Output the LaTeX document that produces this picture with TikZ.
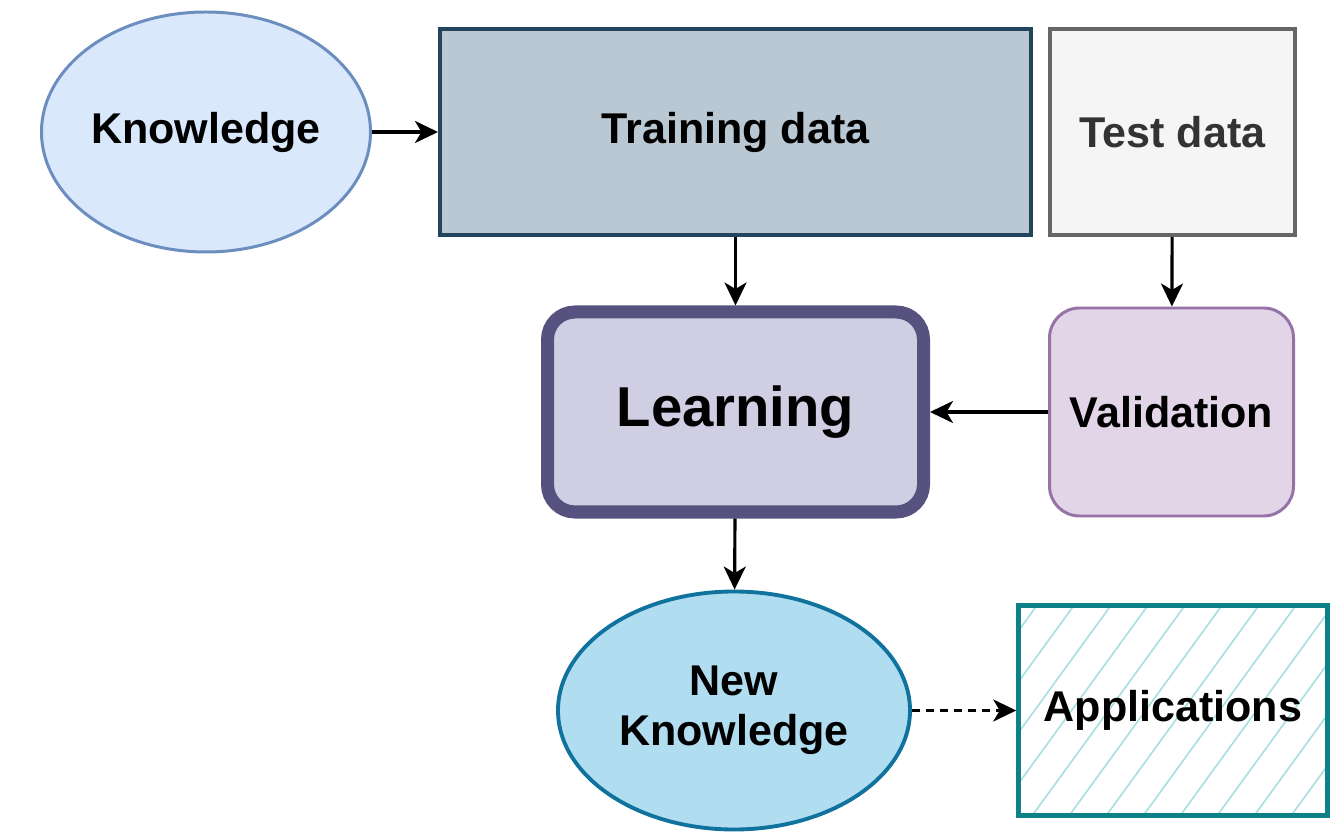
\documentclass[tikz,border=0pt]{standalone}
\usepackage{fontspec}
\setmainfont{Liberation Sans}
\usetikzlibrary{positioning,arrows.meta,shapes.geometric,calc}

\definecolor{knowfill}{HTML}{DAE8FC}
\definecolor{knowdraw}{HTML}{6C8EBF}
\definecolor{trainfill}{HTML}{BAC8D3}
\definecolor{traindraw}{HTML}{23445D}
\definecolor{testfill}{HTML}{F5F5F5}
\definecolor{testdraw}{HTML}{666666}
\definecolor{testtext}{HTML}{333333}
\definecolor{learnfill}{HTML}{D0CEE2}
\definecolor{learndraw}{HTML}{56517E}
\definecolor{validfill}{HTML}{E1D5E7}
\definecolor{validdraw}{HTML}{9673A6}
\definecolor{newkfill}{HTML}{B1DDF0}
\definecolor{newkdraw}{HTML}{10739E}
\definecolor{appsdraw}{HTML}{0E8088}
\definecolor{appshatch}{HTML}{A6DEE2}

\begin{document}
\begin{tikzpicture}[
	txt/.style={font=\fontsize{24.5}{28.5}\selectfont\bfseries, align=center},
	ellstyle/.style={ellipse, txt, inner xsep=-4mm, inner ysep=0pt},
	boxstyle/.style={rectangle, txt, inner sep=0pt},
	arr/.style={-{Stealth[length=4.6mm,width=4.4mm,inset=1.3mm]}, line width=1.8pt},
	hatch/.style={path picture={
		\foreach \i in {-10,...,6}
			\draw[appshatch, line width=0.9pt]
			($(path picture bounding box.south)+(\i*0.74,-0.2)$) -- ++(54:6);
		}}
	]
	\fill[white] (0,0) rectangle (26.74,-16.64);
	\useasboundingbox (0,0) rectangle (26.74,-16.64);
	
	\node[ellstyle, fill=knowfill, draw=knowdraw, line width=1.7pt,
	minimum width=6.58cm, minimum height=4.8cm] (know) at (4.12,-2.64) {Knowledge};
	\node[boxstyle, fill=trainfill, draw=traindraw, line width=2.3pt,
	minimum width=11.82cm, minimum height=4.12cm] (train) at (14.71,-2.64) {Training data};
	\node[boxstyle, fill=testfill, draw=testdraw, text=testtext, line width=2.3pt,
	minimum width=4.9cm, minimum height=4.12cm] (test) at (23.45,-2.64) {Test data};
	
	\node[boxstyle, fill=learnfill, draw=learndraw, line width=7.4pt, rounded corners=0.55cm,
	font=\fontsize{32}{36}\selectfont\bfseries,
	minimum width=7.52cm, minimum height=4.0cm] (learn) at (14.71,-8.24) {Learning};
	\node[boxstyle, fill=validfill, draw=validdraw, line width=1.7pt, rounded corners=0.6cm,
	minimum width=4.88cm, minimum height=4.16cm] (valid) at (23.43,-8.24) {Validation};
	
	\node[ellstyle, fill=newkfill, draw=newkdraw, line width=2.2pt,
	minimum width=7.04cm, minimum height=4.76cm] (newk) at (14.68,-14.21) {New\\Knowledge};
	\node[boxstyle, hatch, draw=appsdraw, line width=2.6pt,
	minimum width=6.18cm, minimum height=4.2cm] (apps) at (23.46,-14.21) {Applications};
	
	\draw[arr] (know) -- (train);
	\draw[arr] (train) -- (learn);
	\draw[arr] (test) -- (valid);
	\draw[arr] (valid) -- (learn);
	\draw[arr] (learn) -- (newk);
	\draw[arr, dash pattern=on 0.16cm off 0.12cm] (newk) -- (apps);
\end{tikzpicture}
\end{document}
